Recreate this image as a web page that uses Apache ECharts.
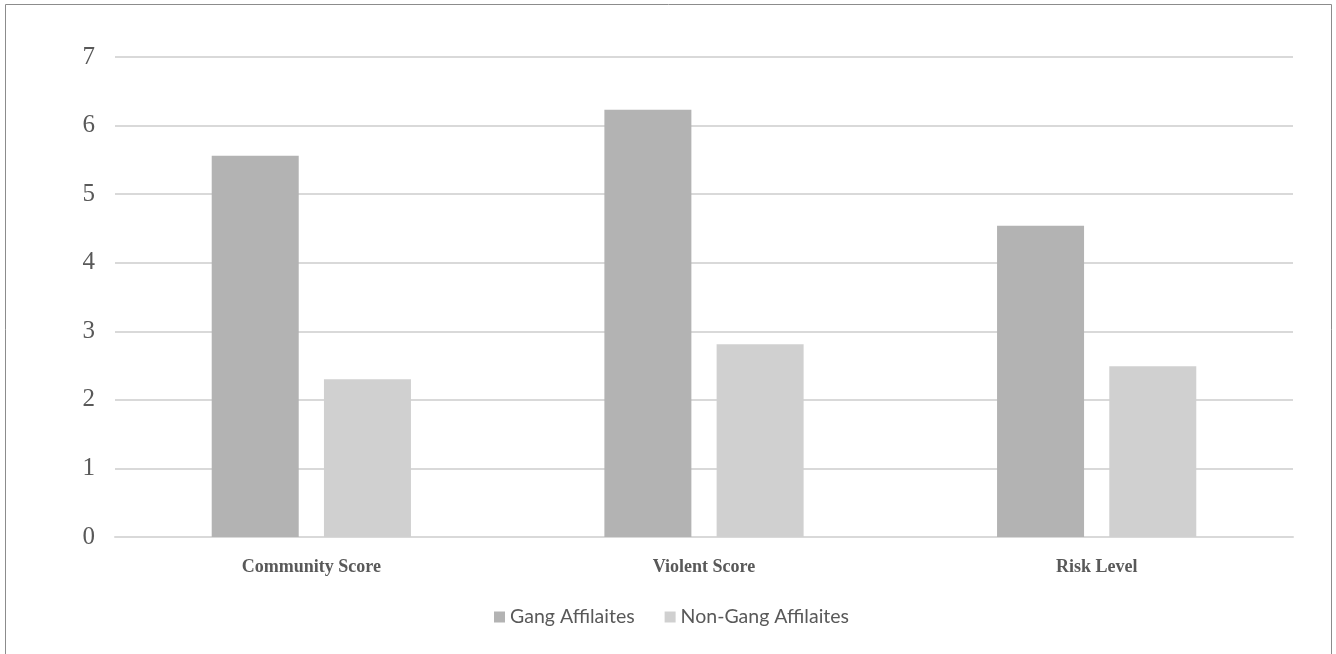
<!DOCTYPE html>
<html>
<head>
<meta charset="utf-8">
<script src="https://cdn.jsdelivr.net/npm/echarts@6/dist/echarts.min.js"></script>
<style>
html,body{margin:0;padding:0;background:#fff;}
#c{width:1336px;height:654px;}
</style>
</head>
<body>
<div id="c"></div>
<script>
var categories = ['Community Score', 'Violent Score', 'Risk Level'];
var seriesNames = ['Gang Affilaites', 'Non-Gang Affilaites'];
var gangValues = [5.56, 6.23, 4.54];
var nonGangValues = [2.30, 2.81, 2.49];
var yTicks = [0, 1, 2, 3, 4, 5, 6, 7];

var chart = echarts.init(document.getElementById('c'), null, {renderer: 'canvas'});
chart.setOption({
  backgroundColor: '#ffffff',
  animation: false,
  graphic: [{
    type: 'rect',
    shape: {x: 5.5, y: 4.5, width: 1326, height: 700},
    style: {fill: 'none', stroke: '#8c8c8c', lineWidth: 1},
    silent: true
  }],
  grid: {left: 115, right: 43, top: 57, bottom: 117, containLabel: false},
  legend: {
    left: 489, top: 602,
    itemWidth: 11, itemHeight: 11, itemGap: 30,
    icon: 'rect',
    textStyle: {fontFamily: 'Lato, "Noto Sans", sans-serif', fontSize: 19.5, color: '#595959'},
    data: seriesNames
  },
  xAxis: {
    type: 'category',
    data: categories,
    axisLine: {show: true, lineStyle: {color: '#d9d9d9', width: 2}},
    axisTick: {show: false},
    axisLabel: {margin: 21, fontFamily: '"Liberation Serif", "DejaVu Serif", serif', fontWeight: 'bold', fontSize: 18, color: '#595959'}
  },
  yAxis: {
    type: 'value',
    min: yTicks[0], max: yTicks[yTicks.length - 1], interval: 1,
    axisLine: {show: false},
    axisTick: {show: false},
    splitLine: {lineStyle: {color: '#d9d9d9', width: 2}},
    axisLabel: {margin: 20, fontFamily: '"Liberation Serif", "DejaVu Serif", serif', fontSize: 25, color: '#595959'}
  },
  series: [{
    name: seriesNames[0], type: 'bar', data: gangValues,
    barWidth: 87, barGap: '29%',
    itemStyle: {color: '#b3b3b3'}
  }, {
    name: seriesNames[1], type: 'bar', data: nonGangValues,
    barWidth: 87,
    itemStyle: {color: '#d0d0d0'}
  }]
});
</script>
</body>
</html>
